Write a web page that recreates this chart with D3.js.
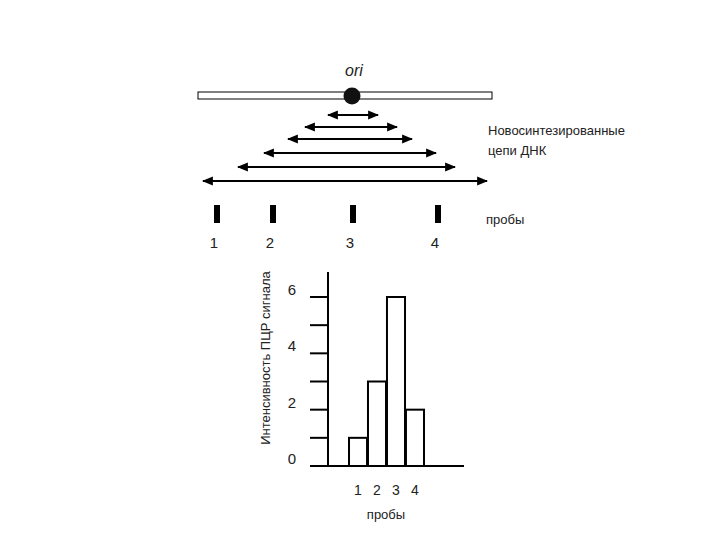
<!DOCTYPE html>
<html>
<head>
<meta charset="utf-8">
<script src="https://d3js.org/d3.v7.min.js"></script>
<style>body{margin:0;background:#fff;font-family:Arial, "Liberation Sans", sans-serif;} text{fill:#222;}</style>
</head>
<body>
<div id="svgcontainer"></div>
<script>
// data
var probes = ['1', '2', '3', '4'];
var signal = [1, 3, 6, 2];
var yTicks = [0, 1, 2, 3, 4, 5, 6];
var yTickLabels = [0, 2, 4, 6];
// newly synthesized strands: [left, right] in genome units (ori = 0)
var strands = [[-24, 26], [-47, 45], [-64, 60], [-88, 84], [-114, 103], [-149, 135]];
var probePos = [-135, -79, 1, 86];

var svg = d3.select('#svgcontainer').append('svg').attr('width', 720).attr('height', 540);

var gx = d3.scaleLinear().domain([-154, 140]).range([198, 492]);
var defs = svg.append('defs');
defs.append('marker').attr('id', 'ah').attr('viewBox', '0 0 10 10').attr('refX', 9).attr('refY', 5)
  .attr('markerWidth', 5.5).attr('markerHeight', 5.5).attr('orient', 'auto-start-reverse')
  .append('path').attr('d', 'M0,1 L10,5 L0,9 Z').attr('fill', 'black');

// genome
svg.append('rect').attr('x', gx(-154)).attr('y', 92).attr('width', gx(140) - gx(-154)).attr('height', 7)
  .attr('fill', 'white').attr('stroke', 'black');
svg.append('circle').attr('cx', gx(0)).attr('cy', 96).attr('r', 8.5).attr('fill', '#111');
svg.append('text').attr('x', gx(0) + 2).attr('y', 76).attr('text-anchor', 'middle')
  .attr('font-size', 16).attr('font-style', 'italic').text('ori');

var strandY = [115, 127, 139, 153, 167, 181];
strands.forEach(function(s, i) {
  svg.append('line').attr('x1', gx(s[0])).attr('x2', gx(s[1])).attr('y1', strandY[i]).attr('y2', strandY[i])
    .attr('stroke', 'black').attr('stroke-width', 2)
    .attr('marker-start', 'url(#ah)').attr('marker-end', 'url(#ah)');
});
svg.append('text').attr('x', 488).attr('y', 135).attr('font-size', 13).text('Новосинтезированные');
svg.append('text').attr('x', 488).attr('y', 155).attr('font-size', 13).text('цепи ДНК');

probePos.forEach(function(p, i) {
  svg.append('rect').attr('x', gx(p) - 3).attr('y', 205).attr('width', 6).attr('height', 18).attr('fill', 'black');
  svg.append('text').attr('x', gx(p) - 3).attr('y', 248).attr('text-anchor', 'middle').attr('font-size', 15).text(probes[i]);
});
svg.append('text').attr('x', 486).attr('y', 224).attr('font-size', 13).text('пробы');

// bar chart
var y = d3.scaleLinear().domain([0, 6]).range([466, 297]);
var x = d3.scaleBand().domain(probes).range([349, 424]).paddingInner(0.05);

svg.append('line').attr('x1', 328).attr('x2', 328).attr('y1', 272).attr('y2', y(0)).attr('stroke', 'black').attr('stroke-width', 2);
svg.append('line').attr('x1', 310).attr('x2', 464).attr('y1', y(0)).attr('y2', y(0)).attr('stroke', 'black').attr('stroke-width', 2);
yTicks.forEach(function(t) {
  svg.append('line').attr('x1', 310).attr('x2', 328).attr('y1', y(t)).attr('y2', y(t)).attr('stroke', 'black').attr('stroke-width', 2);
});
yTickLabels.forEach(function(t) {
  svg.append('text').attr('x', 292).attr('y', y(t) - 2).attr('text-anchor', 'middle').attr('font-size', 15).text(t);
});

probes.forEach(function(p, i) {
  svg.append('rect').attr('x', x(p)).attr('y', y(signal[i])).attr('width', x.bandwidth()).attr('height', y(0) - y(signal[i]))
    .attr('fill', 'white').attr('stroke', 'black').attr('stroke-width', 2);
  svg.append('text').attr('x', x(p) + x.bandwidth() / 2).attr('y', 495).attr('text-anchor', 'middle')
    .attr('font-size', 14).text(p);
});
svg.append('text').attr('x', 386).attr('y', 519).attr('text-anchor', 'middle').attr('font-size', 13).text('пробы');
svg.append('text').attr('transform', 'translate(270,358) rotate(-90)').attr('text-anchor', 'middle')
  .attr('font-size', 13).text('Интенсивность ПЦР сигнала');
</script>
</body>
</html>
